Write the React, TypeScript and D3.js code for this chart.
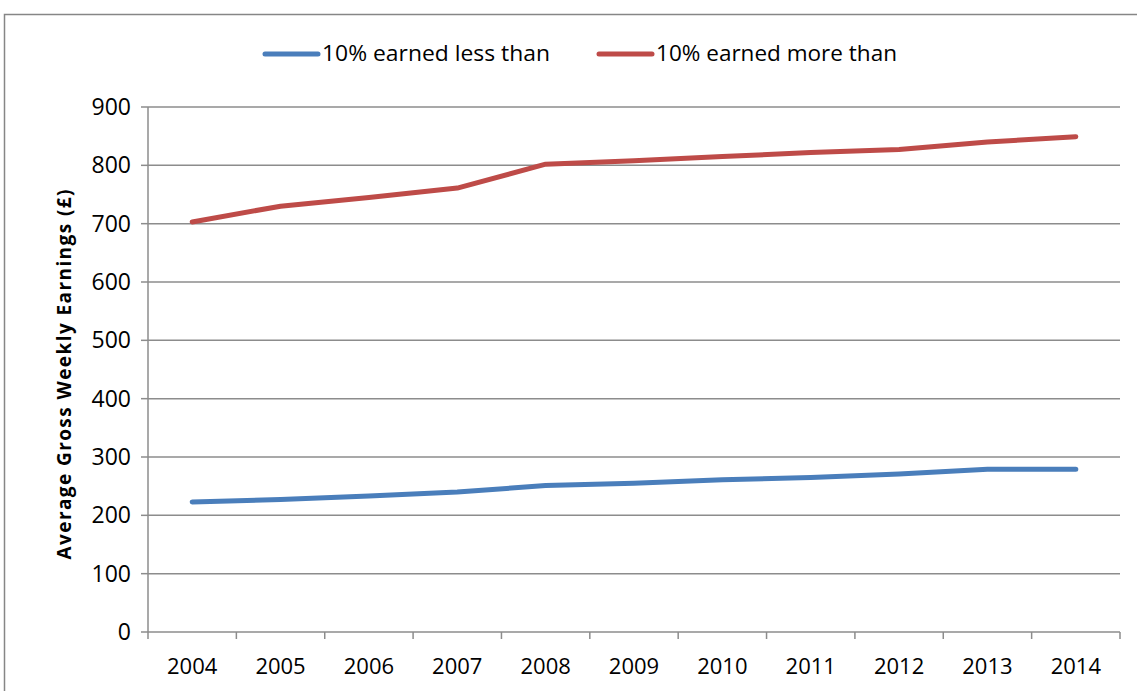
import React from 'react';
import * as d3 from 'd3';

const years = ['2004', '2005', '2006', '2007', '2008', '2009', '2010', '2011', '2012', '2013', '2014'];
const lowerDecile = [223, 227, 233, 240, 251, 255, 261, 265, 271, 279, 279];
const upperDecile = [703, 730, 745, 761, 802, 808, 815, 822, 827, 840, 849];
const yTicks = [0, 100, 200, 300, 400, 500, 600, 700, 800, 900];

const seriesNames = ['10% earned less than', '10% earned more than'];
const seriesColors = ['#4A7EBB', '#BE4B48'];

const width = 1137;
const height = 691;
const font = '"Open Sans", Lato, sans-serif';

export default function App() {
    const left = 148;
    const right = 1120;
    const top = 107;
    const bottom = 632;

    const x = d3.scaleBand().domain(years).range([left, right]);
    const y = d3.scaleLinear().domain([0, 900]).range([bottom, top]);

    const line = d3
        .line<number>()
        .x((d, i) => (x(years[i]) as number) + x.bandwidth() / 2)
        .y(d => y(d));

    const series = [lowerDecile, upperDecile];
    const legendX = [265, 599];
    const legendLen = [228, 241];

    return (
        <svg
            width={width}
            height={height}
            style={{ position: 'absolute', left: 0, top: 0, background: '#fff' }}
        >
            <rect x={4.5} y={14.5} width={1200} height={800} fill="none" stroke="#868686" strokeWidth={1.5} />

            {/* gridlines + y ticks */}
            {yTicks.map(t => (
                <g key={t}>
                    <line x1={left} x2={right} y1={y(t)} y2={y(t)} stroke="#8c8c8c" strokeWidth={1.5} />
                    <line x1={left - 7} x2={left} y1={y(t)} y2={y(t)} stroke="#8c8c8c" strokeWidth={1.5} />
                    <text
                        x={left - 17}
                        y={y(t)}
                        dy="0.35em"
                        textAnchor="end"
                        fontFamily={font}
                        fontSize={23}
                        fill="#000"
                    >
                        {t}
                    </text>
                </g>
            ))}

            {/* axes */}
            <line x1={left} x2={left} y1={top} y2={bottom} stroke="#8c8c8c" strokeWidth={1.5} />
            {years.map(yr => (
                <line
                    key={'t' + yr}
                    x1={x(yr)}
                    x2={x(yr)}
                    y1={bottom}
                    y2={bottom + 7}
                    stroke="#8c8c8c"
                    strokeWidth={1.5}
                />
            ))}
            <line x1={right} x2={right} y1={bottom} y2={bottom + 7} stroke="#8c8c8c" strokeWidth={1.5} />
            {years.map(yr => (
                <text
                    key={'l' + yr}
                    x={(x(yr) as number) + x.bandwidth() / 2}
                    y={674}
                    textAnchor="middle"
                    fontFamily={font}
                    fontSize={22}
                    fill="#000"
                >
                    {yr}
                </text>
            ))}

            <text
                transform={`translate(71, ${(top + bottom) / 2 + 5}) rotate(-90)`}
                textAnchor="middle"
                fontFamily={font}
                fontWeight="bold"
                fontSize={19}
                textLength={370}
                lengthAdjust="spacing"
                fill="#000"
            >
                Average Gross  Weekly Earnings  (£)
            </text>

            {series.map((s, i) => (
                <path
                    key={i}
                    d={line(s) || ''}
                    fill="none"
                    stroke={seriesColors[i]}
                    strokeWidth={5}
                    strokeLinecap="round"
                    strokeLinejoin="round"
                />
            ))}

            {/* legend */}
            {seriesNames.map((n, i) => (
                <g key={n}>
                    <line
                        x1={legendX[i]}
                        x2={legendX[i] + 53}
                        y1={54}
                        y2={54}
                        stroke={seriesColors[i]}
                        strokeWidth={5}
                        strokeLinecap="round"
                    />
                    <text
                        x={legendX[i] + 57}
                        y={61}
                        fontFamily={font}
                        fontSize={21}
                        textLength={legendLen[i]}
                        lengthAdjust="spacingAndGlyphs"
                        fill="#000"
                    >
                        {n}
                    </text>
                </g>
            ))}
        </svg>
    );
}
